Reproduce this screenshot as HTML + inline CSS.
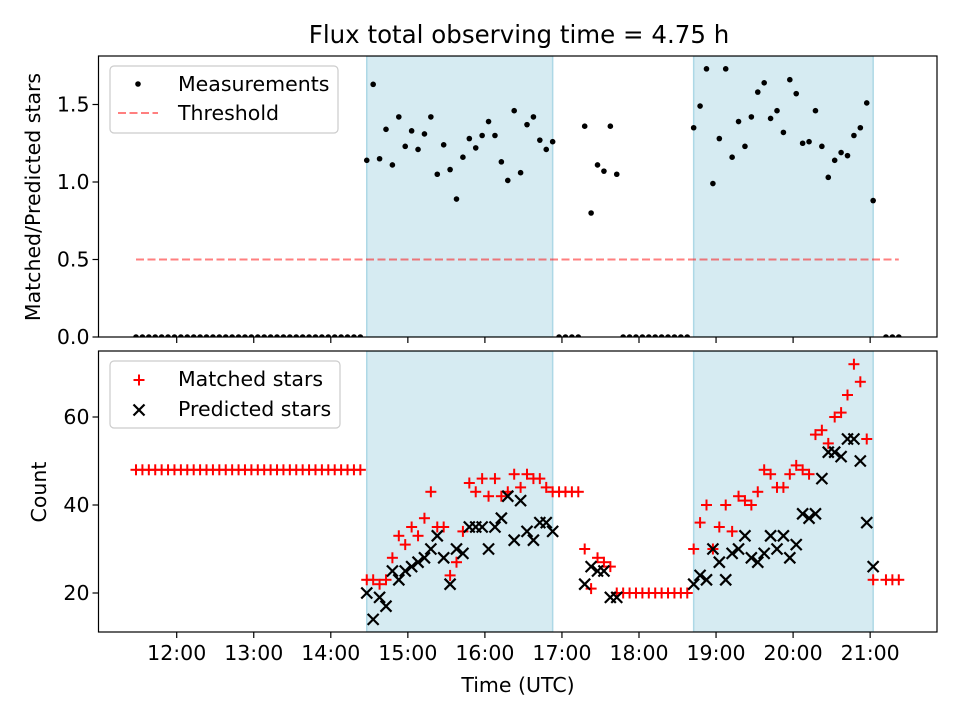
<!DOCTYPE html>
<html><head><meta charset="utf-8">
<style>
html,body{margin:0;padding:0;background:#fff;}
svg{display:block;font-family:"DejaVu Sans","Liberation Sans",sans-serif;}
</style></head>
<body>
<svg id="chart" width="960" height="720" viewBox="0 0 960 720" xmlns="http://www.w3.org/2000/svg"></svg>
<script>
// ---- data ----
const startHour = 11.5;      // first sample 11:30
const stepMinutes = 5;       // sample cadence
const sampleCount = 120;
const shadedWindows = [[36, 65], [87, 115]];   // sample index ranges
const xTickHours = [12,13,14,15,16,17,18,19,20,21];
const xTickLabels = ["12:00","13:00","14:00","15:00","16:00","17:00","18:00","19:00","20:00","21:00"];
const ratioTicks = [0.0,0.5,1.0,1.5];
const ratioTickLabels = ["0.0","0.5","1.0","1.5"];
const countTicks = [20,40,60];
const countTickLabels = ["20","40","60"];
const thresholdValue = 0.5;

const ratioSeg1 = [1.14,1.63,1.15,1.34,1.11,1.42,1.23,1.33,1.21,1.31,1.42,1.05,1.24,1.08,0.89,1.16,1.28,1.22,1.30,1.39,1.30,1.13,1.01,1.46,1.06,1.37,1.42,1.27,1.21,1.26];
const ratioSeg2 = [1.36,0.80,1.11,1.07,1.36,1.05];
const ratioSeg3 = [1.35,1.49,1.73,0.99,1.28,1.73,1.16,1.39,1.23,1.42,1.58,1.64,1.41,1.46,1.32,1.66,1.57,1.25,1.26,1.46,1.23,1.03,1.14,1.19,1.17,1.30,1.35,1.51,0.88];

const matchedSeg1 = [23,23,22,23,28,33,31,35,33,37,43,35,35,24,27,34,45,43,46,42,46,42,43,47,44,47,46,46,44,43];
const predictedSeg1 = [20,14,19,17,25,23,25,26,27,28,30,33,28,22,30,29,35,35,35,30,35,37,42,32,41,34,32,36,36,34];
const matchedSeg2 = [30,21,28,27,26,20];
const predictedSeg2 = [22,26,25,25,19,19];
const matchedSeg3 = [30,36,40,30,35,40,34,42,41,40,43,48,47,44,44,47,49,48,47,56,57,54,60,61,65,72,68,55,23];
const predictedSeg3 = [22,24,23,30,27,23,29,30,33,28,27,29,33,30,33,28,31,38,37,38,46,52,52,51,55,55,50,36,26];

// assemble per-sample arrays (null = no sample)
const ratio = new Array(sampleCount).fill(null);
const matched = new Array(sampleCount).fill(null);
const predicted = new Array(sampleCount).fill(null);
for (let i=0;i<=35;i++){ ratio[i]=0; matched[i]=48; }
ratioSeg1.forEach((v,k)=>ratio[36+k]=v);
matchedSeg1.forEach((v,k)=>matched[36+k]=v);
predictedSeg1.forEach((v,k)=>predicted[36+k]=v);
for (let i=66;i<=69;i++){ ratio[i]=0; matched[i]=43; }
ratioSeg2.forEach((v,k)=>ratio[70+k]=v);
matchedSeg2.forEach((v,k)=>matched[70+k]=v);
predictedSeg2.forEach((v,k)=>predicted[70+k]=v);
for (let i=76;i<=86;i++){ ratio[i]=0; matched[i]=20; }
ratioSeg3.forEach((v,k)=>ratio[87+k]=v);
matchedSeg3.forEach((v,k)=>matched[87+k]=v);
predictedSeg3.forEach((v,k)=>predicted[87+k]=v);
for (let i=117;i<=119;i++){ ratio[i]=0; matched[i]=23; }

// ---- geometry ----
const L=98.5, R=937;
const top1=56, bot1=337, top2=351, bot2=632;
const FS=20.5;
const hourOf = i => startHour + i*stepMinutes/60;
const tickX = h => 176.7 + (h-12)*77.05;
const xScale = h => 136 + (h-startHour)*76.92;
const yRatio = v => 337 - v*155;
const yCount = v => 593 - (v-20)*4.4;

const svg = document.getElementById('chart');
const NS='http://www.w3.org/2000/svg';
function mk(tag, attrs, parent){
  const e=document.createElementNS(NS,tag);
  for(const k in attrs) e.setAttribute(k,attrs[k]);
  (parent||svg).appendChild(e); return e;
}

function panel(name, top, bot){
  const g = mk('g',{});
  
  
  const clipId = name+'-clip';
  const cp = mk('clipPath',{id:clipId},g);
  mk('rect',{x:L,y:top,width:R-L,height:bot-top},cp);
  const inner = mk('g',{'clip-path':'url(#'+clipId+')'},g);
  shadedWindows.forEach(w=>{
    const x0=xScale(hourOf(w[0])), x1=xScale(hourOf(w[1]));
    const r=mk('rect',{x:x0,y:top,width:x1-x0,height:bot-top,fill:'#add8e6','fill-opacity':0.5,stroke:'#add8e6','stroke-width':1.5},inner);
    
    
  });
  return {g, inner};
}
function frame(g, top, bot){
  mk('rect',{x:L,y:top,width:R-L,height:bot-top,fill:'none',stroke:'#000','stroke-width':1.2},g);
  xTickHours.forEach(h=>{
    const x=tickX(h);
    mk('line',{x1:x,x2:x,y1:bot,y2:bot+6,stroke:'#000','stroke-width':1.2},g);
  });
}

// ---- title ----
const title = mk('text',{x:519,y:43,'text-anchor':'middle','font-size':24.5,fill:'#000'});
title.textContent='Flux total observing time = 4.75 h';



// ---- top panel ----
const p1 = panel('ratio-panel', top1, bot1);
const thr = mk('line',{x1:xScale(hourOf(0)),x2:xScale(hourOf(sampleCount-1)),y1:yRatio(thresholdValue),y2:yRatio(thresholdValue),stroke:'#ff0000','stroke-opacity':0.5,'stroke-width':2,'stroke-dasharray':'8,3.5'},p1.inner);


ratio.forEach((v,i)=>{
  if(v===null) return;
  const c=mk('circle',{cx:xScale(hourOf(i)),cy:yRatio(v),r:2.8,fill:'#000'},p1.inner);
  
  
});
frame(p1.g, top1, bot1);
ratioTicks.forEach((v,k)=>{
  const y=yRatio(v);
  mk('line',{x1:L-6,x2:L,y1:y,y2:y,stroke:'#000','stroke-width':1.2},p1.g);
  const t=mk('text',{x:L-9,y:y+7,'text-anchor':'end','font-size':FS},p1.g);
  t.textContent=ratioTickLabels[k];
  
  
});
const yl1=mk('text',{x:0,y:0,'text-anchor':'middle','font-size':FS,transform:'translate(40,197) rotate(-90)'});
yl1.textContent='Matched/Predicted stars';



// top legend
const lg1=mk('g',{});


mk('rect',{x:110,y:66,width:228,height:67,rx:4,fill:'#fff','fill-opacity':0.8,stroke:'#ccc','stroke-width':1.2},lg1);
mk('circle',{cx:138,cy:84,r:2.8,fill:'#000'},lg1);
const le1=mk('text',{x:178,y:91,'font-size':FS},lg1);
le1.textContent='Measurements';


mk('line',{x1:118,x2:158,y1:113,y2:113,stroke:'#ff0000','stroke-opacity':0.5,'stroke-width':2,'stroke-dasharray':'8,3.5'},lg1);
const le2=mk('text',{x:178,y:120,'font-size':FS},lg1);
le2.textContent='Threshold';



// ---- bottom panel ----
const p2 = panel('count-panel', top2, bot2);
function plus(x,y,parent){
  const g=mk('g',{stroke:'#ff0000','stroke-width':2},parent);
  mk('line',{x1:x-5.5,x2:x+5.5,y1:y,y2:y},g);
  mk('line',{x1:x,x2:x,y1:y-5.5,y2:y+5.5},g);
  return g;
}
function cross(x,y,parent){
  const g=mk('g',{stroke:'#000','stroke-width':2.2},parent);
  mk('line',{x1:x-5.5,x2:x+5.5,y1:y-5.5,y2:y+5.5},g);
  mk('line',{x1:x-5.5,x2:x+5.5,y1:y+5.5,y2:y-5.5},g);
  return g;
}
matched.forEach((v,i)=>{
  if(v===null) return;
  const m=plus(xScale(hourOf(i)),yCount(v),p2.inner);
  
  
});
predicted.forEach((v,i)=>{
  if(v===null) return;
  const m=cross(xScale(hourOf(i)),yCount(v),p2.inner);
  
  
});
frame(p2.g, top2, bot2);
countTicks.forEach((v,k)=>{
  const y=yCount(v);
  mk('line',{x1:L-6,x2:L,y1:y,y2:y,stroke:'#000','stroke-width':1.2},p2.g);
  const t=mk('text',{x:L-9,y:y+7,'text-anchor':'end','font-size':FS},p2.g);
  t.textContent=countTickLabels[k];
  
  
});
xTickHours.forEach((h,k)=>{
  const t=mk('text',{x:tickX(h),y:bot2+28,'text-anchor':'middle','font-size':FS});
  t.textContent=xTickLabels[k];
  
  
});
const yl2=mk('text',{x:0,y:0,'text-anchor':'middle','font-size':FS,transform:'translate(46,492) rotate(-90)'});
yl2.textContent='Count';


const xl=mk('text',{x:518,y:692,'text-anchor':'middle','font-size':FS});
xl.textContent='Time (UTC)';



// bottom legend
const lg2=mk('g',{});


mk('rect',{x:110,y:361,width:230,height:67,rx:4,fill:'#fff','fill-opacity':0.8,stroke:'#ccc','stroke-width':1.2},lg2);
plus(139,380,lg2);
const le3=mk('text',{x:178,y:386,'font-size':FS},lg2);
le3.textContent='Matched stars';


cross(139,410,lg2);
const le4=mk('text',{x:178,y:416,'font-size':FS},lg2);
le4.textContent='Predicted stars';


</script>
</body></html>
